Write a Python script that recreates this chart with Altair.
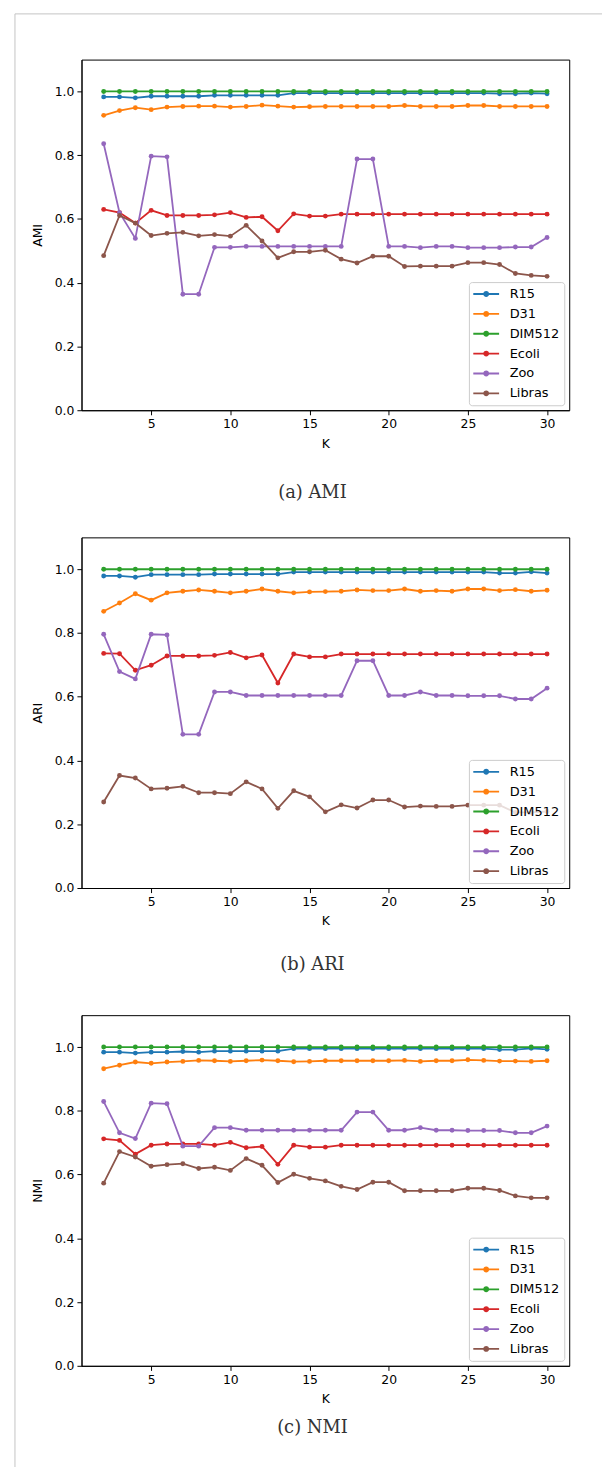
import altair as alt
import pandas as pd

K = list(range(2, 31))
SERIES = ["R15", "D31", "DIM512", "Ecoli", "Zoo", "Libras"]
COLORS = ["#1f77b4", "#ff7f0e", "#2ca02c", "#d62728", "#9467bd", "#8c564b"]
Y_TICKS = [0.0, 0.2, 0.4, 0.6, 0.8, 1.0]
X_TICKS = [5, 10, 15, 20, 25, 30]
CAPTIONS = ["(a) AMI", "(b) ARI", "(c) NMI"]

# ---------------- AMI ----------------
ami_r15 = [0.983, 0.983, 0.980, 0.985, 0.985, 0.985, 0.985, 0.988, 0.988, 0.988, 0.988, 0.988,
           0.995, 0.995, 0.995, 0.995, 0.995, 0.995, 0.995, 0.995, 0.995, 0.995, 0.995, 0.995, 0.995,
           0.993, 0.993, 0.995, 0.993]
ami_d31 = [0.925, 0.940, 0.949, 0.943, 0.951, 0.953, 0.954, 0.954, 0.951, 0.953, 0.957, 0.954,
           0.951, 0.952, 0.953, 0.953, 0.953, 0.953, 0.953, 0.956, 0.953, 0.953, 0.953, 0.956,
           0.956, 0.953, 0.953, 0.953, 0.953]
ami_dim512 = [1.0] * 29
ami_ecoli = [0.630, 0.620, 0.587, 0.627, 0.611, 0.611, 0.611, 0.613, 0.620, 0.605, 0.607, 0.563,
             0.616, 0.609, 0.609, 0.615, 0.615, 0.615, 0.615, 0.615, 0.615, 0.615, 0.615, 0.615,
             0.615, 0.615, 0.615, 0.615, 0.615]
ami_zoo = [0.836, 0.620, 0.539, 0.797, 0.795, 0.364, 0.364, 0.511, 0.511, 0.514, 0.514, 0.514,
           0.514, 0.514, 0.514, 0.514, 0.788, 0.788, 0.514, 0.514, 0.510, 0.514, 0.514, 0.510,
           0.510, 0.510, 0.512, 0.512, 0.542]
ami_libras = [0.485, 0.611, 0.587, 0.548, 0.555, 0.558, 0.547, 0.551, 0.546, 0.580, 0.531, 0.478,
              0.497, 0.497, 0.502, 0.474, 0.462, 0.483, 0.483, 0.451, 0.452, 0.452, 0.452, 0.463,
              0.463, 0.457, 0.429, 0.423, 0.420]

# ---------------- ARI ----------------
ari_r15 = [0.979, 0.979, 0.975, 0.983, 0.983, 0.983, 0.983, 0.985, 0.985, 0.985, 0.985, 0.985,
           0.991, 0.991, 0.991, 0.991, 0.991, 0.991, 0.991, 0.991, 0.991, 0.991, 0.991, 0.991, 0.991,
           0.988, 0.988, 0.992, 0.988]
ari_d31 = [0.868, 0.894, 0.923, 0.903, 0.926, 0.931, 0.935, 0.931, 0.926, 0.931, 0.938, 0.931,
           0.926, 0.929, 0.930, 0.931, 0.935, 0.933, 0.933, 0.938, 0.931, 0.933, 0.931, 0.938,
           0.938, 0.933, 0.936, 0.931, 0.934]
ari_dim512 = [1.0] * 29
ari_ecoli = [0.736, 0.735, 0.683, 0.699, 0.728, 0.728, 0.728, 0.730, 0.739, 0.722, 0.731, 0.643,
             0.734, 0.725, 0.725, 0.734, 0.734, 0.734, 0.734, 0.734, 0.734, 0.734, 0.734, 0.734,
             0.734, 0.734, 0.734, 0.734, 0.734]
ari_zoo = [0.796, 0.679, 0.656, 0.796, 0.794, 0.482, 0.482, 0.615, 0.615, 0.604, 0.604, 0.604,
           0.604, 0.604, 0.604, 0.604, 0.713, 0.713, 0.604, 0.604, 0.615, 0.604, 0.604, 0.603,
           0.603, 0.603, 0.593, 0.593, 0.627]
ari_libras = [0.270, 0.353, 0.345, 0.311, 0.313, 0.319, 0.299, 0.299, 0.296, 0.333, 0.311, 0.250,
              0.305, 0.286, 0.239, 0.261, 0.251, 0.276, 0.276, 0.254, 0.257, 0.256, 0.256, 0.260,
              0.260, 0.260, 0.237, 0.237, 0.240]

# ---------------- NMI ----------------
nmi_r15 = [0.984, 0.984, 0.981, 0.984, 0.984, 0.986, 0.984, 0.987, 0.987, 0.987, 0.987, 0.987,
           0.995, 0.995, 0.995, 0.995, 0.995, 0.995, 0.995, 0.995, 0.995, 0.995, 0.995, 0.995, 0.995,
           0.992, 0.992, 0.996, 0.993]
nmi_d31 = [0.932, 0.943, 0.953, 0.949, 0.953, 0.955, 0.958, 0.957, 0.955, 0.957, 0.959, 0.957,
           0.954, 0.955, 0.957, 0.957, 0.957, 0.957, 0.957, 0.958, 0.955, 0.957, 0.957, 0.960,
           0.958, 0.956, 0.956, 0.955, 0.957]
nmi_dim512 = [1.0] * 29
nmi_ecoli = [0.712, 0.707, 0.664, 0.692, 0.696, 0.696, 0.696, 0.692, 0.701, 0.684, 0.688, 0.632,
             0.692, 0.686, 0.686, 0.692, 0.692, 0.692, 0.692, 0.692, 0.692, 0.692, 0.692, 0.692,
             0.692, 0.692, 0.692, 0.692, 0.692]
nmi_zoo = [0.829, 0.731, 0.713, 0.824, 0.822, 0.689, 0.689, 0.747, 0.747, 0.739, 0.739, 0.739,
           0.739, 0.739, 0.739, 0.739, 0.796, 0.796, 0.739, 0.739, 0.747, 0.739, 0.739, 0.738,
           0.738, 0.738, 0.731, 0.731, 0.752]
nmi_libras = [0.573, 0.672, 0.655, 0.626, 0.631, 0.634, 0.619, 0.623, 0.613, 0.650, 0.629, 0.575,
              0.601, 0.588, 0.580, 0.563, 0.553, 0.576, 0.576, 0.549, 0.549, 0.549, 0.549, 0.557,
              0.557, 0.550, 0.533, 0.527, 0.527]

# legend glyph: a short line with a dot, shifted right inside its nominal box
LEGEND_SYMBOL = ("M-1.15,-0.14L2.79,-0.14L2.79,0.14L-1.15,0.14Z "
                 "M1.27,0A0.45,0.45,0,1,1,0.37,0A0.45,0.45,0,1,1,1.27,0Z")

PLOT_W = 491
PLOT_H = 353


def panel(series_values, ytitle, caption, cap_y, border=False):
    rows = []
    for name, vals in zip(SERIES, series_values):
        for k, v in zip(K, vals):
            rows.append({"K": k, "value": v, "series": name})
    df = pd.DataFrame(rows)
    base = alt.Chart(df)

    xenc = alt.X("K:Q",
                 scale=alt.Scale(domain=[0.6, 31.4], nice=False, zero=False),
                 axis=alt.Axis(values=X_TICKS, title="K", grid=False, titlePadding=7))
    yenc = alt.Y("value:Q",
                 scale=alt.Scale(domain=[0, 1.1], nice=False),
                 axis=alt.Axis(values=Y_TICKS, format=".1f", title=ytitle, grid=False,
                               titlePadding=10))
    legend = alt.Legend(title=None, orient="bottom-right", offset=5, padding=5,
                        cornerRadius=3, strokeColor="#cccccc",
                        fillColor="rgba(255,255,255,0.8)",
                        labelFontSize=13, labelFont="DejaVu Sans", labelColor="#000000",
                        symbolType=LEGEND_SYMBOL, symbolSize=174, symbolStrokeWidth=0,
                        rowPadding=6, labelOffset=22)
    color = alt.Color("series:N", scale=alt.Scale(domain=SERIES, range=COLORS), legend=legend)

    layers = []
    for name in SERIES:
        sub = base.transform_filter(alt.datum.series == name)
        layers.append(sub.mark_point(filled=True, size=24, opacity=1).encode(
            x=xenc, y=yenc, color=color))
        layers.append(sub.mark_line(strokeWidth=1.8).encode(x=xenc, y=yenc, color=color))

    cap_df = pd.DataFrame({"caption": [caption]})
    layers.append(alt.Chart(cap_df).mark_text(
        font="DejaVu Serif", fontSize=18, color="#333333", baseline="middle", align="center"
    ).encode(text="caption:N", x=alt.value(PLOT_W / 2 - 13), y=alt.value(cap_y)))

    if border:
        border_df = pd.DataFrame({"b": [0]})
        bb = alt.Chart(border_df)
        layers.append(bb.mark_rule(color="#c4c4c4", strokeWidth=1).encode(
            x=alt.value(-67), y=alt.value(-46), y2=alt.value(1420)))
        layers.append(bb.mark_rule(color="#c4c4c4", strokeWidth=1).encode(
            x=alt.value(-67), x2=alt.value(524), y=alt.value(-46)))

    return alt.layer(*layers).properties(width=PLOT_W, height=PLOT_H)


a = panel([ami_r15, ami_d31, ami_dim512, ami_ecoli, ami_zoo, ami_libras], "AMI", CAPTIONS[0], 436, border=True)
b = panel([ari_r15, ari_d31, ari_dim512, ari_ecoli, ari_zoo, ari_libras], "ARI", CAPTIONS[1], 431)
c = panel([nmi_r15, nmi_d31, nmi_dim512, nmi_ecoli, nmi_zoo, nmi_libras], "NMI", CAPTIONS[2], 416)

chart = alt.vconcat(
    a, b, c, spacing=128, bounds="flush",
    padding={"left": 6, "top": 0, "right": 0, "bottom": 0},
).resolve_scale(
    color="independent"
).resolve_legend(
    color="independent"
).configure_view(
    stroke="#000000", strokeWidth=1
).configure_axis(
    domainColor="#000000", domainWidth=1, tickColor="#000000", tickWidth=1, tickSize=4.6,
    labelColor="#000000", labelFont="DejaVu Sans", labelFontSize=12.5, labelPadding=3,
    titleColor="#000000", titleFont="DejaVu Sans", titleFontSize=12.5, titleFontWeight="normal",
).configure_legend(
    labelFontSize=13
)

chart.save("out.html", embed_options={"renderer": "svg", "actions": False})
